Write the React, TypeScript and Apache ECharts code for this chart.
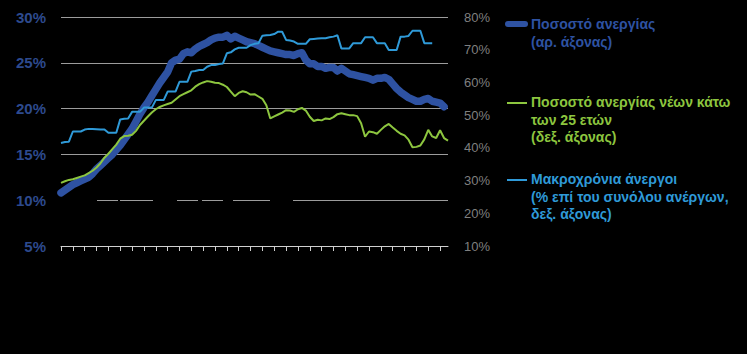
import React, { useEffect, useRef } from "react";
import * as echarts from "echarts";

const years = [2010, 2011, 2012, 2013, 2014, 2015, 2016, 2017, 2018];
const monthNames = ["01", "02", "03", "04", "05", "06", "07", "08", "09", "10", "11", "12"];
const categories: string[] = years.flatMap((y) => monthNames.map((m) => `${m}/${y}`)).slice(0, 99);

const unemploymentRate = [
  10.8, 11.1, 11.4, 11.7, 11.9, 12.1, 12.3, 12.5, 12.9, 13.4,
  13.8, 14.2, 14.6, 15.0, 15.5, 16.0, 16.6, 17.2, 17.8, 18.6,
  19.4, 20.1, 20.7, 21.4, 22.1, 22.8, 23.4, 24.0, 25.0, 25.3,
  25.4, 26.0, 26.2, 26.1, 26.5, 26.8, 27.0, 27.2, 27.5, 27.7,
  27.8, 27.8, 28.0, 27.6, 27.9, 27.7, 27.5, 27.3, 27.2, 27.1,
  26.9, 26.7, 26.5, 26.3, 26.2, 26.1, 26.0, 25.9, 25.9, 25.8,
  26.0, 26.1, 25.3, 24.9, 24.9, 24.6, 24.6, 24.4, 24.5, 24.5,
  24.1, 24.4, 24.1, 23.8, 23.7, 23.6, 23.5, 23.4, 23.3, 23.1,
  23.3, 23.3, 23.4, 23.2, 22.7, 22.2, 21.8, 21.5, 21.2, 21.0,
  20.8, 20.8, 21.0, 21.1, 20.8, 20.7, 20.6, 20.2, null,
];

const youthUnemployment = [
  29.3, 29.8, 30.2, 30.4, 30.8, 31.2, 31.6, 32.3, 33.0, 34.0,
  35.3, 37.0, 38.2, 39.6, 41.0, 42.8, 43.6, 43.7, 44.0, 45.2,
  47.0, 48.3, 49.6, 50.8, 51.8, 52.5, 53.0, 53.4, 53.8, 54.8,
  55.8, 56.4, 57.0, 57.6, 58.7, 59.5, 60.0, 60.4, 60.2, 59.9,
  59.8, 59.3, 58.6, 57.2, 55.8, 56.8, 57.3, 57.0, 56.3, 56.4,
  55.7, 55.0, 53.0, 49.0, 49.6, 50.2, 50.8, 51.5, 51.4, 51.0,
  51.8, 52.2, 51.4, 49.5, 48.2, 48.6, 48.4, 49.0, 48.8, 49.4,
  50.3, 50.6, 50.3, 50.0, 50.0, 49.7, 47.5, 43.4, 45.0, 44.8,
  44.3, 45.5, 46.6, 47.3, 46.2, 45.2, 44.3, 43.8, 42.5, 40.2,
  40.3, 40.7, 42.6, 45.5, 43.5, 43.0, 45.4, 43.0, 42.2,
];

const longTermShare = [
  41.5, 41.8, 41.9, 45.0, 45.0, 45.0, 45.6, 45.8, 45.8, 45.7,
  45.6, 45.6, 44.6, 44.6, 44.6, 48.7, 48.9, 49.0, 51.0, 51.0,
  51.0, 52.3, 52.3, 52.3, 54.6, 54.6, 54.6, 57.2, 57.2, 57.2,
  60.2, 60.2, 60.2, 63.3, 63.5, 63.8, 63.8, 64.8, 65.3, 65.3,
  65.6, 65.8, 68.9, 69.2, 70.1, 70.6, 70.6, 70.6, 71.4, 71.8,
  72.0, 74.3, 74.4, 74.5, 74.8, 75.5, 75.5, 73.0, 72.8, 72.5,
  71.8, 71.8, 71.8, 73.2, 73.3, 73.4, 73.5, 73.5, 73.8, 74.0,
  74.4, 70.4, 70.4, 70.4, 72.0, 72.0, 72.0, 73.8, 73.8, 73.8,
  72.0, 72.0, 72.0, 69.9, 69.9, 69.9, 74.0, 74.0, 74.2, 75.8,
  75.8, 75.8, 72.0, 72.0, 72.0, null, null, null, null,
];

const seriesNames = [
  "Ποσοστό ανεργίας (αρ. άξονας)",
  "Ποσοστό ανεργίας νέων κάτω των 25 ετών (δεξ. άξονας)",
  "Μακροχρόνια άνεργοι (% επί του συνόλου ανέργων, δεξ. άξονας)",
];

const legendLines1 = ["Ποσοστό ανεργίας", "(αρ. άξονας)"];
const legendLines2 = ["Ποσοστό ανεργίας νέων κάτω", "των 25 ετών", "(δεξ. άξονας)"];
const legendLines3 = ["Μακροχρόνια άνεργοι", "(% επί του συνόλου ανέργων,", "δεξ. άξονας)"];

// gaps seen in the 10% gridline of the reference (pixel spans)
const gridGaps = [
  [61, 97],
  [118, 120],
  [153, 177],
  [198, 202],
  [223, 233],
  [270, 293],
];

const DARK_BLUE = "#2E52A2";
const GREEN = "#8DC63F";
const LIGHT_BLUE = "#2F9AD8";

export default function App() {
  const ref = useRef<HTMLDivElement>(null);

  useEffect(() => {
    if (!ref.current) return;
    const chart = echarts.init(ref.current, undefined, { renderer: "svg" });
    const font = "'Liberation Sans', Arial, sans-serif";

    const textLines = (lines: string[], x: number, y0: number, color: string) =>
      lines.map((t, i) => ({
        type: "text",
        left: x,
        top: y0 + i * 17.5,
        style: {
          text: t,
          fill: color,
          font: `bold 14px ${font}`,
          textVerticalAlign: "top",
        },
      }));

    const gapCovers = gridGaps.map(([a, b]) => ({
      type: "line",
      z: 1,
      shape: { x1: a, y1: 200.2, x2: b, y2: 200.2 },
      style: { stroke: "#000000", lineWidth: 3 },
    }));

    chart.setOption({
      animation: false,
      backgroundColor: "#000000",
      textStyle: { fontFamily: font },
      grid: { left: 61, right: 299, top: 17, bottom: 108, containLabel: false },
      xAxis: {
        type: "category",
        data: categories,
        boundaryGap: false,
        axisLine: { show: true, lineStyle: { color: "#D0D0D0", width: 1 } },
        axisTick: { show: true, interval: 2, length: 5, lineStyle: { color: "#D0D0D0" } },
        axisLabel: { show: false },
        splitLine: { show: false },
      },
      yAxis: [
        {
          type: "value",
          min: 5,
          max: 30,
          interval: 5,
          axisLine: { show: false },
          axisTick: { show: false },
          axisLabel: {
            formatter: "{value}%",
            color: "#2D4A8E",
            fontWeight: "bold",
            fontSize: 15,
            margin: 15,
            fontFamily: font,
          },
          splitLine: { show: true, lineStyle: { color: "#9C9C9C", width: 1 } },
        },
        {
          type: "value",
          min: 10,
          max: 80,
          interval: 10,
          position: "right",
          axisLine: { show: false },
          axisTick: { show: false },
          axisLabel: {
            formatter: "{value}%",
            color: "#7F7F7F",
            fontSize: 13,
            margin: 16,
            fontFamily: font,
          },
          splitLine: { show: false },
        },
      ],
      series: [
        {
          name: seriesNames[0],
          type: "line",
          yAxisIndex: 0,
          data: unemploymentRate,
          showSymbol: false,
          symbol: "none",
          lineStyle: { color: DARK_BLUE, width: 7.5, cap: "round", join: "round" },
          z: 2,
        },
        {
          name: seriesNames[1],
          type: "line",
          yAxisIndex: 1,
          data: youthUnemployment,
          showSymbol: false,
          symbol: "none",
          lineStyle: { color: GREEN, width: 2 },
          z: 3,
        },
        {
          name: seriesNames[2],
          type: "line",
          yAxisIndex: 1,
          data: longTermShare,
          showSymbol: false,
          symbol: "none",
          lineStyle: { color: LIGHT_BLUE, width: 2 },
          z: 4,
        },
      ],
      graphic: [
        ...gapCovers,
        {
          type: "rect",
          shape: { x: 505, y: 21, width: 23, height: 6, r: 3 },
          style: { fill: DARK_BLUE },
        },
        ...textLines(legendLines1, 531, 17, DARK_BLUE),
        {
          type: "line",
          shape: { x1: 507, y1: 103, x2: 527, y2: 103 },
          style: { stroke: GREEN, lineWidth: 2 },
        },
        ...textLines(legendLines2, 531, 95, GREEN),
        {
          type: "line",
          shape: { x1: 507, y1: 180, x2: 527, y2: 180 },
          style: { stroke: LIGHT_BLUE, lineWidth: 2 },
        },
        ...textLines(legendLines3, 531, 172, LIGHT_BLUE),
      ],
    });

    return () => chart.dispose();
  }, []);

  return (
    <div
      ref={ref}
      style={{ position: "fixed", left: 0, top: 0, width: 747, height: 354, background: "#000" }}
    />
  );
}
